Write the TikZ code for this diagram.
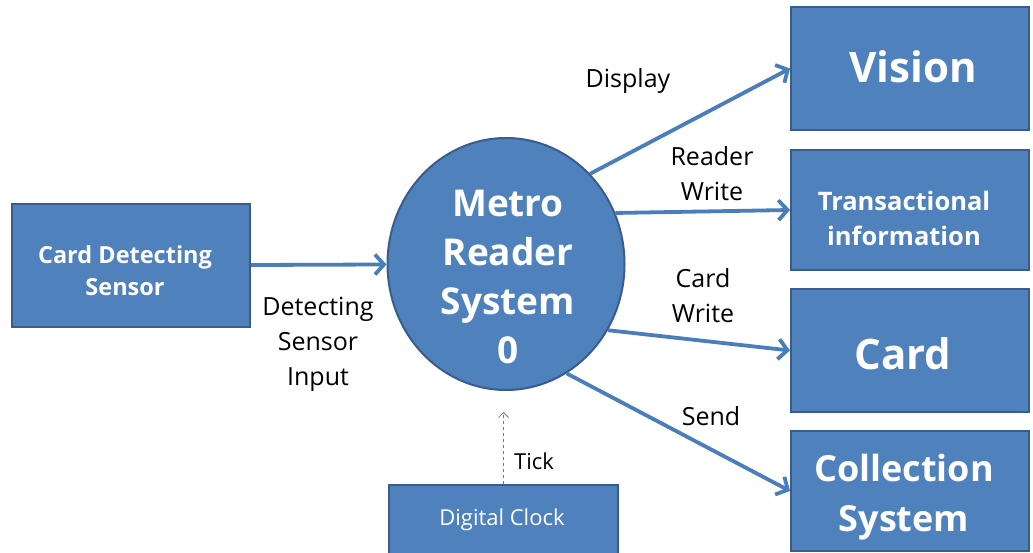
\documentclass[tikz,border=0pt]{standalone}
\usepackage{fontspec}
\setmainfont{Open Sans}
\usetikzlibrary{shapes.geometric,arrows.meta}
\definecolor{boxfill}{HTML}{4F81BD}
\definecolor{boxline}{HTML}{385D8A}
\definecolor{arrowc}{HTML}{4A7EBB}
\tikzset{
  box/.style={draw=boxline, line width=2pt, fill=boxfill, inner sep=0pt},
  btxt/.style={text=white, align=center, inner sep=0pt},
  flow/.style={draw=arrowc, line width=3.8pt, -{Straight Barb[length=9pt,width=20pt,line width=3.8pt]}},
  lbl/.style={align=center, text=black, inner sep=0pt, font=\fontsize{25}{35}\selectfont},
}
\begin{document}
\begin{tikzpicture}[x=1pt,y=-1pt]
\useasboundingbox (0,0) rectangle (1033,553);
% boxes
\node[box, minimum width=238pt, minimum height=123pt] (sensor) at (131,265.5) {};
\node[box, minimum width=238pt, minimum height=123pt] (vision) at (910,68.5) {};
\node[box, minimum width=238pt, minimum height=120pt] (trans) at (910,210) {};
\node[box, minimum width=238pt, minimum height=123pt] (card) at (910,350.5) {};
\node[box, minimum width=238pt, minimum height=120pt] (coll) at (910,491) {};
\node[box, minimum width=229pt, minimum height=70pt] (clock) at (503.5,520) {};
% process
\node[ellipse, draw=boxline, line width=2pt, fill=boxfill, inner sep=0pt,
      minimum width=237pt, minimum height=252pt] (sys) at (506,264) {};
% box texts
\node[btxt, font=\bfseries\fontsize{23.5}{32}\selectfont] (sensortxt) at (125,271) {Card Detecting\\Sensor};
\node[btxt, font=\bfseries\fontsize{42}{50}\selectfont] (visiontxt) at (913,67) {Vision};
\node[btxt, font=\bfseries\fontsize{25.5}{35}\selectfont] (transtxt) at (904,218) {Transactional\\information};
\node[btxt, font=\bfseries\fontsize{42}{50}\selectfont] (cardtxt) at (903,354) {Card};
\node[btxt, font=\bfseries\fontsize{36}{50}\selectfont] (colltxt) at (904,497) {Collection\\System};
\node[btxt, font=\fontsize{22}{26}\selectfont] (clocktxt) at (502,520) {Digital Clock};
\node[btxt, font=\bfseries\fontsize{37}{49}\selectfont] (systxt) at (508,277) {Metro\\Reader\\System\\0};
\coordinate (tickend) at (503.5,412);
% flows
\draw[flow] (sensor) -- (sys);
\draw[flow] (sys.47) -- (vision.west);
\draw[flow] (sys.25) -- (trans.west);
\draw[flow] (sys.-33) -- (card.west);
\draw[flow] (sys.-61) -- (coll.west);
\draw[draw=arrowc!70!gray, line width=0.8pt, dashed, -{Straight Barb[length=5pt,width=10pt]}] (clock.north) -- (tickend);
% labels
\node[lbl] (lin) at (318,344) {Detecting\\Sensor\\Input};
\node[lbl] (ldisp) at (628,81) {Display};
\node[lbl] (lrw) at (712,174) {Reader\\Write};
\node[lbl] (lcw) at (703,296) {Card\\Write};
\node[lbl] (lsend) at (711,416) {Send};
\node[lbl, font=\fontsize{22}{26}\selectfont] (ltick) at (534,461) {Tick};
\end{tikzpicture}
\end{document}
